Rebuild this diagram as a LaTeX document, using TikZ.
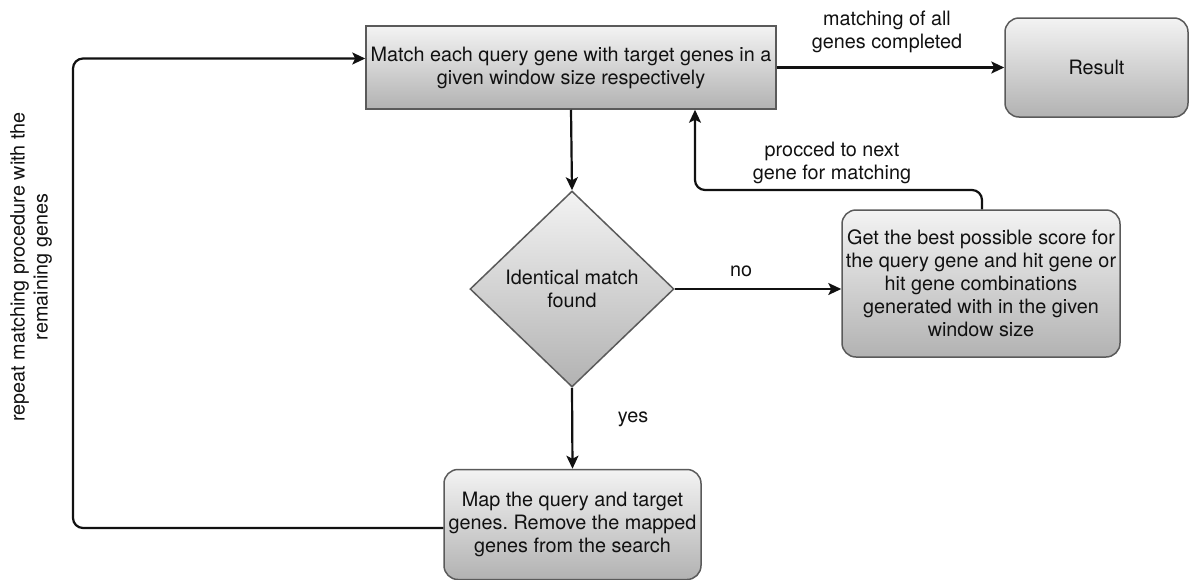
\documentclass[tikz,border=0pt]{standalone}
\usepackage{fontspec}
\setmainfont{TeX Gyre Heros}
\frenchspacing
\usetikzlibrary{shapes.geometric,arrows.meta}
\definecolor{boxline}{HTML}{5A5A5A}
\definecolor{shadetop}{HTML}{F3F3F3}
\definecolor{shadebot}{HTML}{B2B2B2}
\definecolor{ink}{HTML}{111111}
\tikzset{
  every node/.style={font=\fontsize{19.8}{23}\selectfont, text=ink, align=center, inner sep=0pt},
  procbox/.style={draw=boxline, line width=1.5pt, top color=shadetop, bottom color=shadebot},
  roundbox/.style={procbox, rounded corners=14pt},
  decision/.style={procbox, shape=diamond},
  flow/.style={draw=ink, line width=2.2pt, -{Stealth[length=13pt, width=12pt, inset=3pt]}},
  lbl/.style={},
}
\begin{document}
\begin{tikzpicture}[x=1pt, y=-1pt]
\useasboundingbox (0,0) rectangle (1190,579);

% process steps
\node[procbox, minimum width=410pt, minimum height=83pt] (match) at (571,67.5)
  {Match each query gene with target genes in a\\given window size respectively};
\node[roundbox, minimum width=183pt, minimum height=99pt] (result) at (1096.5,67.5) {Result};
\node[decision, minimum width=204pt, minimum height=196pt] (ident) at (572,289)
  {Identical match\\found};
\node[roundbox, minimum width=278pt, minimum height=147pt] (best) at (981,283.5)
  {Get the best possible score for\\the query gene and hit gene or\\hit gene combinations\\generated with in the given\\window size};
\node[roundbox, minimum width=257pt, minimum height=110pt] (mapg) at (572.5,524.5)
  {Map the query and target\\genes. Remove the mapped\\genes from the search};

% helper points for the bent connectors
\coordinate (upbend) at (695,190);
\coordinate (loopx) at (73,0);

% connectors
\draw[flow] (match.east) -- (result.west);
\draw[flow] (match.south) -- (ident.north);
\draw[flow] (ident.east) -- (ident.east -| best.west);
\draw[flow] (ident.south) -- (mapg.north);
\draw[flow, rounded corners=10pt] (best.north -| 982,0) |- (upbend) -- (upbend |- match.south);
\draw[flow, rounded corners=10pt] ([yshift=-3.5pt]mapg.west) -- ([yshift=-3.5pt]mapg.west -| loopx) |- ([yshift=9pt]match.west);

% connector labels
\node[lbl] (lblall) at (887,31.5) {matching of all\\genes completed};
\node[lbl] (lblnext) at (832,163) {procced to next\\gene for matching};
\node[lbl] (lblno) at (741,271) {no};
\node[lbl] (lblyes) at (633,419) {yes};
\node[lbl, rotate=90] (lblrep) at (31,267) {repeat matching procedure with the\\remaining genes};
\end{tikzpicture}
\end{document}
